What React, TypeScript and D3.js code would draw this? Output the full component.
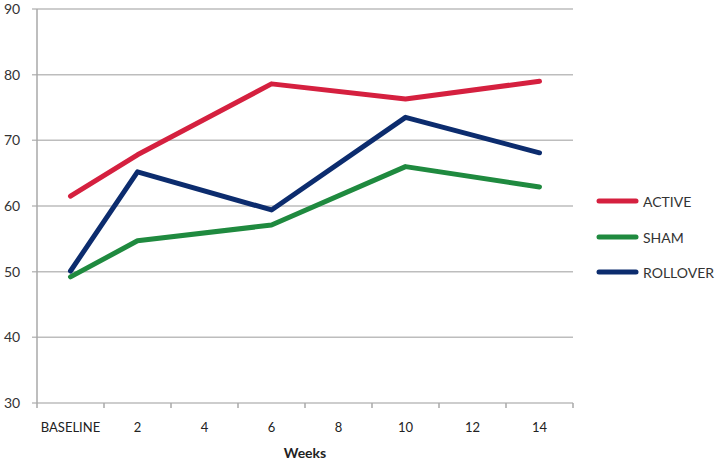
import React from "react";
import * as d3 from "d3";

const categories = ["BASELINE", "2", "4", "6", "8", "10", "12", "14"];
const activeWeeks = ["BASELINE", "2", "6", "10", "14"];
const activeValues = [61.5, 67.8, 78.6, 76.3, 79.0];
const shamValues = [49.2, 54.7, 57.1, 66.0, 62.9];
const rolloverValues = [50.1, 65.2, 59.4, 73.5, 68.1];
const yTicks = [30, 40, 50, 60, 70, 80, 90];

const seriesNames = ["ACTIVE", "SHAM", "ROLLOVER"];
const seriesColors = ["#D5203F", "#1F8A3F", "#0C2C6E"];

export default function App() {
  const W = 720, H = 463;
  const left = 37, right = 573, top = 9, bottom = 403;
  const x = d3.scaleBand<string>().domain(categories).range([left, right]);
  const y = d3.scaleLinear().domain([30, 90]).range([bottom, top]);
  const cx = (c: string) => (x(c) as number) + x.bandwidth() / 2;
  const line = d3
    .line<[string, number]>()
    .x((d) => cx(d[0]))
    .y((d) => y(d[1]));
  const series = [activeValues, shamValues, rolloverValues].map((vals) =>
    vals.map((v, i) => [activeWeeks[i], v] as [string, number])
  );
  const font = "Lato, 'Open Sans', sans-serif";
  const legendY = [201, 237, 272];
  return (
    <svg
      width={W}
      height={H}
      style={{ position: "absolute", left: 0, top: 0, background: "#fff" }}
      fontFamily={font}
    >
      {yTicks.map((t) => (
        <g key={t}>
          <line x1={32} x2={right} y1={y(t)} y2={y(t)} stroke="#bdbdbd" strokeWidth={1.5} />
          <text x={4} y={y(t) + 5} fontSize={14} fill="#333">
            {t}
          </text>
        </g>
      ))}
      <line x1={left} x2={left} y1={top} y2={bottom} stroke="#a8a8a8" strokeWidth={1.5} />
      {categories.map((c, i) => (
        <line
          key={"t" + i}
          x1={(x(c) as number) + x.bandwidth()}
          x2={(x(c) as number) + x.bandwidth()}
          y1={bottom}
          y2={bottom + 5}
          stroke="#a8a8a8"
          strokeWidth={1.5}
        />
      ))}
      <line x1={left} x2={left} y1={bottom} y2={bottom + 5} stroke="#a8a8a8" strokeWidth={1.5} />
      {categories.map((c) => (
        <text key={c} x={cx(c)} y={432} fontSize={13} fill="#222" textAnchor="middle">
          {c}
        </text>
      ))}
      <text x={305} y={458} fontSize={14} fontWeight="bold" fill="#222" textAnchor="middle">
        Weeks
      </text>
      {series.map((s, i) => (
        <path
          key={i}
          d={line(s) as string}
          fill="none"
          stroke={seriesColors[i]}
          strokeWidth={5}
          strokeLinecap="round"
          strokeLinejoin="round"
        />
      ))}
      {seriesNames.map((n, i) => (
        <g key={n}>
          <line
            x1={599}
            x2={636}
            y1={legendY[i]}
            y2={legendY[i]}
            stroke={seriesColors[i]}
            strokeWidth={5}
            strokeLinecap="round"
          />
          <text x={643} y={legendY[i] + 6} fontSize={14} fill="#333">
            {n}
          </text>
        </g>
      ))}
    </svg>
  );
}
